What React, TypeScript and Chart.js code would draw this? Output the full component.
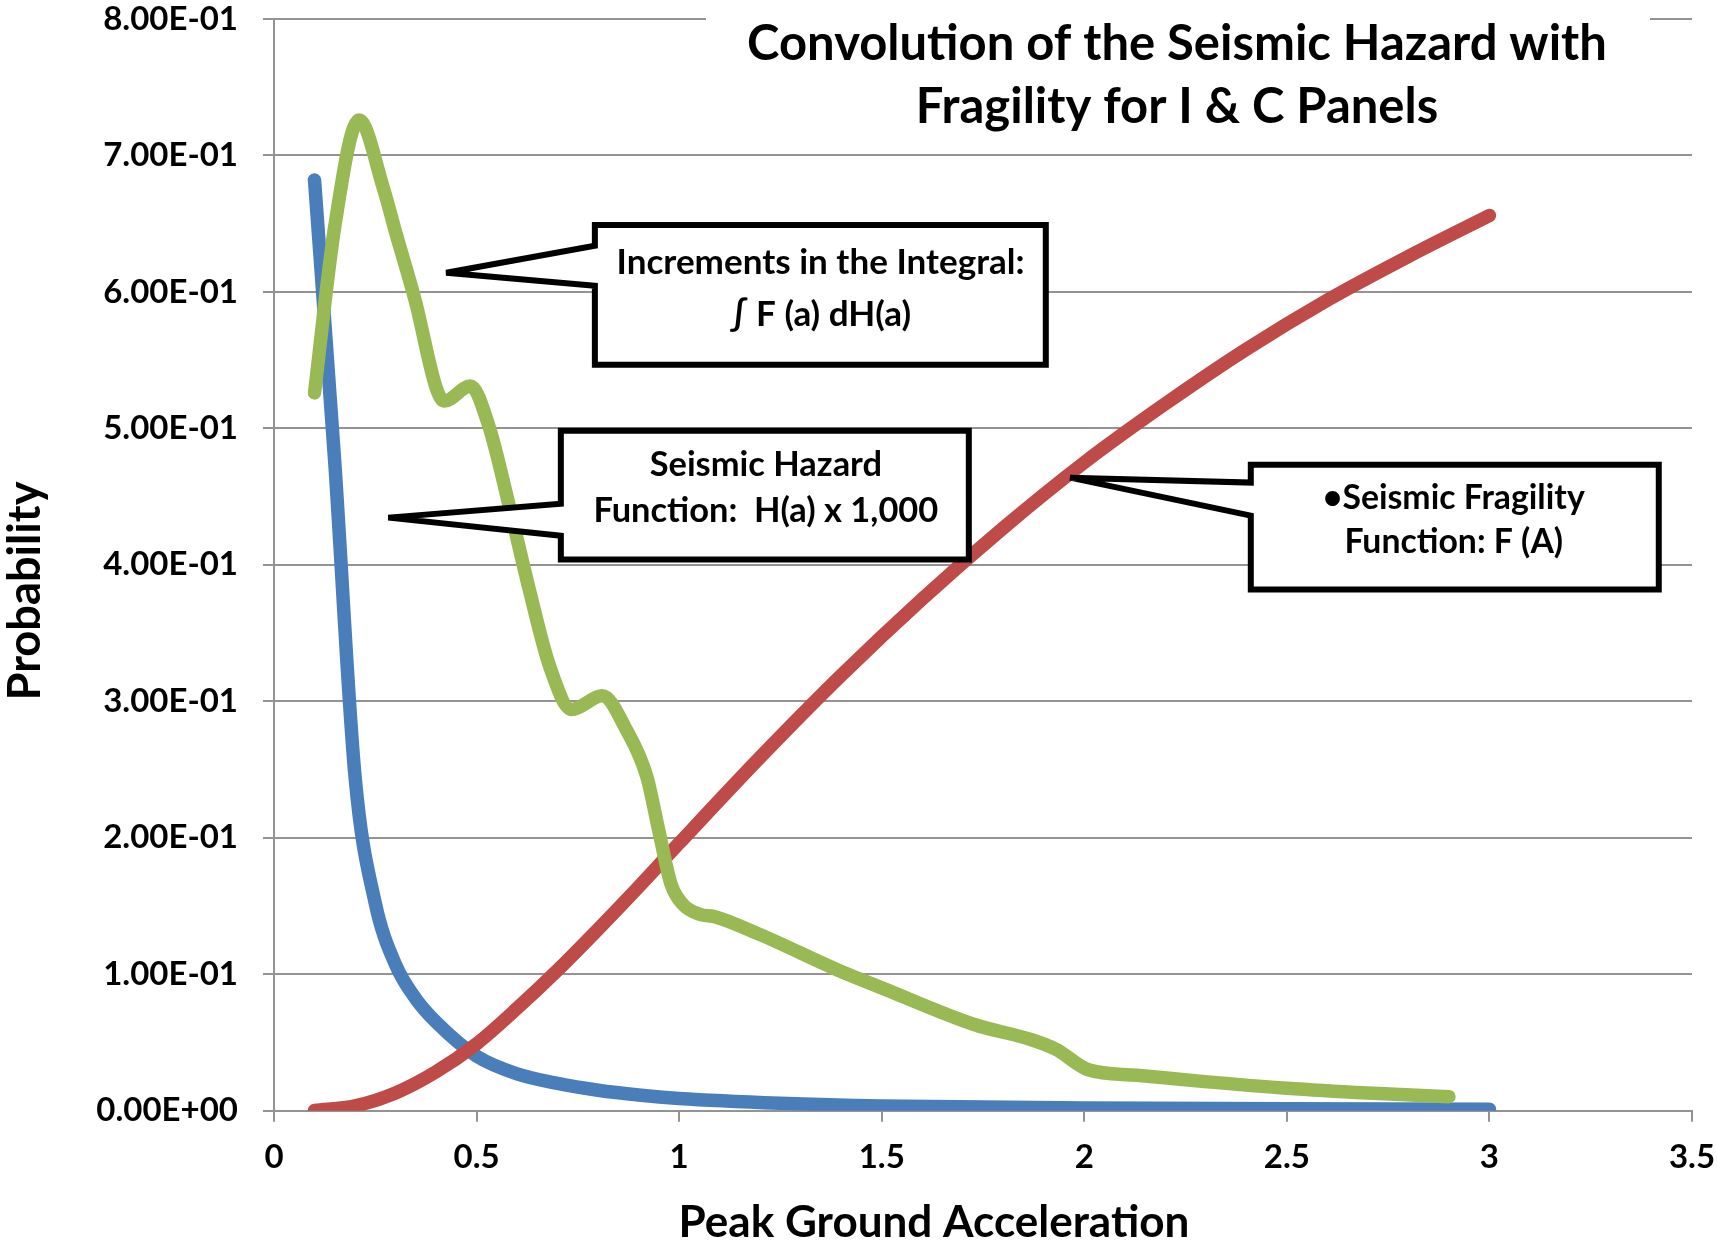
import React, { useEffect, useRef } from "react";
import { Chart, registerables } from "chart.js";

Chart.register(...registerables);

const FONT = "Lato";
const GRID = "#939393";
const BLUE = "#4a7ebb";
const RED = "#be4b48";
const GREEN = "#98b954";

// ---- data ----
const hazardAccel = [0.1, 0.15, 0.2, 0.25, 0.3, 0.35, 0.4, 0.5, 0.6, 0.7, 0.8, 0.9, 1.0, 1.25, 1.5, 2.0, 2.5, 3.0];
const hazardValues = [0.682, 0.475, 0.245, 0.152, 0.107, 0.082, 0.065, 0.04, 0.027, 0.02, 0.015, 0.0115, 0.009, 0.0055, 0.0035, 0.002, 0.0015, 0.001];

const fragilityAccel = [0.1, 0.2, 0.3, 0.4, 0.5, 0.6, 0.7, 0.8, 0.9, 1.0, 1.2, 1.4, 1.6, 1.8, 2.0, 2.2, 2.4, 2.6, 2.8, 3.0];
const fragilityValues = [0.0002, 0.0035, 0.013, 0.0285, 0.049, 0.075, 0.103, 0.133, 0.164, 0.196, 0.259, 0.319, 0.375, 0.427, 0.475, 0.518, 0.558, 0.594, 0.626, 0.656];

const incrementAccel = [0.1, 0.15, 0.21, 0.27, 0.3, 0.35, 0.4, 0.42, 0.485, 0.53, 0.58, 0.63, 0.68, 0.735, 0.81, 0.87, 0.92, 0.95, 0.98, 1.01, 1.05, 1.09, 1.2, 1.4, 1.5, 1.73, 1.87, 1.93, 2.01, 2.13, 2.29, 2.5, 2.7, 2.9];
const incrementValues = [0.526, 0.648, 0.726, 0.676, 0.644, 0.592, 0.53, 0.52, 0.531, 0.502, 0.444, 0.382, 0.326, 0.294, 0.304, 0.279, 0.245, 0.205, 0.166, 0.151, 0.144, 0.142, 0.129, 0.102, 0.09, 0.063, 0.052, 0.045, 0.03, 0.026, 0.0215, 0.0165, 0.013, 0.0103];

const xTickValues = [0, 0.5, 1, 1.5, 2, 2.5, 3, 3.5];
const xTickLabels = ["0", "0.5", "1", "1.5", "2", "2.5", "3", "3.5"];
const yTickValues = [0, 0.1, 0.2, 0.3, 0.4, 0.5, 0.6, 0.7, 0.8];
const yTickLabels = ["0.00E+00", "1.00E-01", "2.00E-01", "3.00E-01", "4.00E-01", "5.00E-01", "6.00E-01", "7.00E-01", "8.00E-01"];

const chartTitle = ["Convolution of the Seismic Hazard with", "Fragility for I & C Panels"];
const xAxisTitle = "Peak Ground Acceleration";
const yAxisTitle = "Probability";

// ---- callout annotations (positions in data units) ----
const callouts = [
  {
    lines: ["Increments in the Integral:", "\u222B F (a) dH(a)"],
    box: { x0: 0.792, x1: 1.905, yTop: 0.6491, yBottom: 0.5466 },
    tip: { x: 0.425, y: 0.614 },
    base: { upper: 0.6339, lower: 0.6045 },
    textX: 1.349,
    textY: [0.6226, 0.584],
    fitWidth: 408,
    fitLine: 0,
  },
  {
    lines: ["Seismic Hazard", "Function:  H(a) x 1,000"],
    box: { x0: 0.708, x1: 1.715, yTop: 0.4983, yBottom: 0.4039 },
    tip: { x: 0.282, y: 0.4346 },
    base: { upper: 0.4447, lower: 0.4214 },
    textX: 1.214,
    textY: [0.4742, 0.4405],
    fitWidth: 345,
    fitLine: 1,
  },
  {
    lines: ["\u2022Seismic Fragility", "Function: F (A)"],
    box: { x0: 2.411, x1: 3.418, yTop: 0.4734, yBottom: 0.3819 },
    tip: { x: 1.965, y: 0.4639 },
    base: { upper: 0.4603, lower: 0.4361 },
    textX: 2.912,
    textY: [0.45, 0.4178],
    fitWidth: 262,
    fitLine: 0,
  },
];

function fitSize(ctx: CanvasRenderingContext2D, text: string, width: number) {
  ctx.font = `bold 100px ${FONT}`;
  return (100 * width) / ctx.measureText(text).width;
}

function drawCentered(ctx: CanvasRenderingContext2D, text: string, cx: number, cy: number, size: number) {
  ctx.font = `bold ${size}px ${FONT}`;
  ctx.textAlign = "center";
  ctx.textBaseline = "alphabetic";
  ctx.fillText(text, cx, cy + size * 0.36);
}

const annotationPlugin = {
  id: "annotations",
  afterDraw(chart: any) {
    const { ctx, scales } = chart;
    const xs = scales.x;
    const ys = scales.y;
    ctx.save();

    // title with white background
    ctx.fillStyle = "#ffffff";
    ctx.fillRect(706, 0, 944, 140);
    ctx.fillStyle = "#000";
    const tSize = fitSize(ctx, chartTitle[0], 860);
    drawCentered(ctx, chartTitle[0], 1177, 42, tSize);
    drawCentered(ctx, chartTitle[1], 1177, 105, tSize);

    // axis titles
    const xtSize = fitSize(ctx, xAxisTitle, 511);
    drawCentered(ctx, xAxisTitle, 934, 1221, xtSize);
    const ytSize = fitSize(ctx, yAxisTitle, 219);
    ctx.save();
    ctx.translate(24, 591);
    ctx.rotate(-Math.PI / 2);
    drawCentered(ctx, yAxisTitle, 0, 0, ytSize);
    ctx.restore();

    // callouts
    for (const c of callouts) {
      const x0 = xs.getPixelForValue(c.box.x0);
      const x1 = xs.getPixelForValue(c.box.x1);
      const yT = ys.getPixelForValue(c.box.yTop);
      const yB = ys.getPixelForValue(c.box.yBottom);
      const tx = xs.getPixelForValue(c.tip.x);
      const ty = ys.getPixelForValue(c.tip.y);
      const bu = ys.getPixelForValue(c.base.upper);
      const bl = ys.getPixelForValue(c.base.lower);
      ctx.beginPath();
      ctx.moveTo(x0, yT);
      ctx.lineTo(x1, yT);
      ctx.lineTo(x1, yB);
      ctx.lineTo(x0, yB);
      ctx.lineTo(x0, bl);
      ctx.lineTo(tx, ty);
      ctx.lineTo(x0, bu);
      ctx.closePath();
      ctx.fillStyle = "#ffffff";
      ctx.fill();
      ctx.lineWidth = 6;
      ctx.strokeStyle = "#000";
      ctx.lineJoin = "miter";
      ctx.miterLimit = 3;
      ctx.stroke();
      ctx.fillStyle = "#000";
      const size = fitSize(ctx, c.lines[c.fitLine], c.fitWidth);
      const cx = xs.getPixelForValue(c.textX);
      c.lines.forEach((ln, i) => drawCentered(ctx, ln, cx, ys.getPixelForValue(c.textY[i]), size));
    }
    ctx.restore();
  },
};

export default function App() {
  const canvasRef = useRef<HTMLCanvasElement | null>(null);

  useEffect(() => {
    const canvas = canvasRef.current;
    if (!canvas) return;
    Chart.defaults.font.family = FONT;
    const tickFont = { family: FONT, size: 33, weight: "bold" as const };
    const chart = new Chart(canvas, {
      type: "line",
      data: {
        datasets: [
          {
            label: "Increments in the Integral",
            data: incrementAccel.map((a, i) => ({ x: a, y: incrementValues[i] })),
            borderColor: GREEN,
            order: 0,
          },
          {
            label: "Seismic Fragility Function",
            data: fragilityAccel.map((a, i) => ({ x: a, y: fragilityValues[i] })),
            borderColor: RED,
            order: 1,
          },
          {
            label: "Seismic Hazard Function",
            data: hazardAccel.map((a, i) => ({ x: a, y: hazardValues[i] })),
            borderColor: BLUE,
            order: 2,
          },
        ],
      },
      options: {
        responsive: false,
        animation: false,
        devicePixelRatio: 1,
        layout: { padding: { top: 19, right: 25, left: 0, bottom: 0 } },
        elements: {
          point: { radius: 0, hoverRadius: 0 },
          line: {
            borderWidth: 13.5,
            borderCapStyle: "round",
            borderJoinStyle: "round",
            cubicInterpolationMode: "monotone",
            fill: false,
          },
        },
        plugins: {
          legend: { display: false },
          tooltip: { enabled: false },
          title: { display: false },
        },
        scales: {
          x: {
            type: "linear",
            min: 0,
            max: 3.5,
            afterBuildTicks: (s: any) => {
              s.ticks = xTickValues.map((v) => ({ value: v }));
            },
            ticks: {
              callback: (_v: any, i: number) => xTickLabels[i],
              font: tickFont,
              color: "#000",
              padding: 16,
              maxRotation: 0,
              autoSkip: false,
            },
            grid: { drawOnChartArea: false, drawTicks: true, tickLength: 11, color: GRID, lineWidth: 2 },
            border: { display: true, color: GRID, width: 2 },
            afterFit: (s: any) => {
              s.height = 132.3;
              s.paddingLeft = 0;
              s.paddingRight = 0;
            },
          },
          y: {
            type: "linear",
            min: 0,
            max: 0.8,
            afterBuildTicks: (s: any) => {
              s.ticks = yTickValues.map((v) => ({ value: v }));
            },
            ticks: {
              callback: (_v: any, i: number) => yTickLabels[i],
              font: tickFont,
              color: "#000",
              padding: 25,
              autoSkip: false,
            },
            grid: { drawTicks: true, tickLength: 11, color: GRID, lineWidth: 2 },
            border: { display: true, color: GRID, width: 2 },
            afterFit: (s: any) => {
              s.width = 274;
              s.paddingTop = 0;
              s.paddingBottom = 0;
            },
          },
        },
      } as any,
      plugins: [annotationPlugin],
    });
    return () => chart.destroy();
  }, []);

  return (
    <div style={{ position: "absolute", left: 0, top: 0, width: 1717, height: 1243, background: "#fff" }}>
      <canvas ref={canvasRef} width={1717} height={1243} style={{ display: "block" }} />
    </div>
  );
}
